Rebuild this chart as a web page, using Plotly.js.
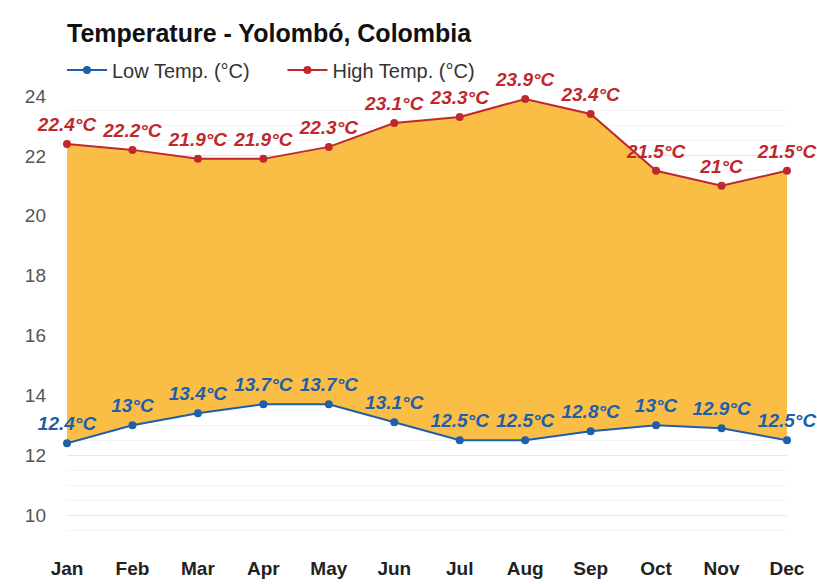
<!DOCTYPE html>
<html>
<head>
<meta charset="utf-8">
<script src="https://cdn.plot.ly/plotly-3.0.1.min.js"></script>
<style>html,body{margin:0;padding:0;background:#fff;}#chart{width:817px;height:584px;}</style>
</head>
<body>
<div id="chart"></div>
<script>
var months = ["Jan","Feb","Mar","Apr","May","Jun","Jul","Aug","Sep","Oct","Nov","Dec"];
var lowTemp = [12.4, 13, 13.4, 13.7, 13.7, 13.1, 12.5, 12.5, 12.8, 13, 12.9, 12.5];
var highTemp = [22.4, 22.2, 21.9, 21.9, 22.3, 23.1, 23.3, 23.9, 23.4, 21.5, 21, 21.5];
var yTicks = [10, 12, 14, 16, 18, 20, 22, 24];

var FONT = "Liberation Sans, Arial, sans-serif";
var lowColor = "#1f5ea8";
var highColor = "#c0282d";

var traces = [
  {x: months, y: lowTemp, mode: "lines", showlegend: false, line: {width: 0, color: "rgba(0,0,0,0)"}, hoverinfo: "skip"},
  {x: months, y: highTemp, mode: "lines", showlegend: false, fill: "tonexty",
   fillcolor: "rgba(250,188,64,0.97)", line: {width: 0, color: "rgba(0,0,0,0)"}, hoverinfo: "skip"},
  {x: months, y: lowTemp, mode: "lines+markers", name: "Low Temp. (°C)&nbsp;&nbsp;&nbsp;&nbsp;&nbsp;",
   line: {color: lowColor, width: 2}, marker: {color: lowColor, size: 8},
   cliponaxis: false, hoverinfo: "y"},
  {x: months, y: highTemp, mode: "lines+markers", name: "High Temp. (°C)",
   line: {color: highColor, width: 2}, marker: {color: highColor, size: 8},
   cliponaxis: false, hoverinfo: "y"},
  {x: months, y: lowTemp, mode: "markers+text", showlegend: false,
   marker: {size: 12, color: "rgba(0,0,0,0)"},
   text: lowTemp.map(function(v){return v + "°C";}), textposition: "top center",
   textfont: {family: FONT, size: 19, color: lowColor, weight: "bold", style: "italic"},
   cliponaxis: false, hoverinfo: "skip"},
  {x: months, y: highTemp, mode: "markers+text", showlegend: false,
   marker: {size: 12, color: "rgba(0,0,0,0)"},
   text: highTemp.map(function(v){return v + "°C";}), textposition: "top center",
   textfont: {family: FONT, size: 19, color: highColor, weight: "bold", style: "italic"},
   cliponaxis: false, hoverinfo: "skip"}
];

var layout = {
  width: 817, height: 584,
  margin: {l: 67, r: 30, t: 96, b: 39},
  paper_bgcolor: "#ffffff", plot_bgcolor: "#ffffff",
  font: {family: FONT, size: 16, color: "#333"},
  title: {text: "<b>Temperature - Yolombó, Colombia</b>", x: 67/817, xanchor: "left", xref: "container",
          y: 1 - 33/584, yanchor: "middle", yref: "container",
          font: {family: FONT, size: 25, color: "#111"}},
  showlegend: true,
  legend: {orientation: "h", traceorder: "normal", x: 62/817, xanchor: "left", xref: "container",
           y: 1 - 70/584, yanchor: "middle", yref: "container",
           font: {family: FONT, size: 20, color: "#333"}, itemwidth: 40, bgcolor: "rgba(0,0,0,0)"},
  xaxis: {type: "category", range: [0, 11], showgrid: false, zeroline: false, showline: false,
          tickfont: {family: FONT, size: 19, color: "#222", weight: "bold"}, ticks: "", ticklabelstandoff: 10,
          fixedrange: true},
  yaxis: {range: [9, 24], tickvals: yTicks, ticktext: yTicks.map(String),
          showgrid: true, gridcolor: "#e6e6e6", gridwidth: 1, zeroline: false, showline: false,
          minor: {dtick: 0.5, showgrid: true, gridcolor: "#f4f4f4", gridwidth: 1},
          tickfont: {family: FONT, size: 19, color: "#555"}, ticks: "", ticklabelstandoff: 20,
          fixedrange: true}
};

Plotly.newPlot("chart", traces, layout, {displayModeBar: false, staticPlot: true});
</script>
</body>
</html>
